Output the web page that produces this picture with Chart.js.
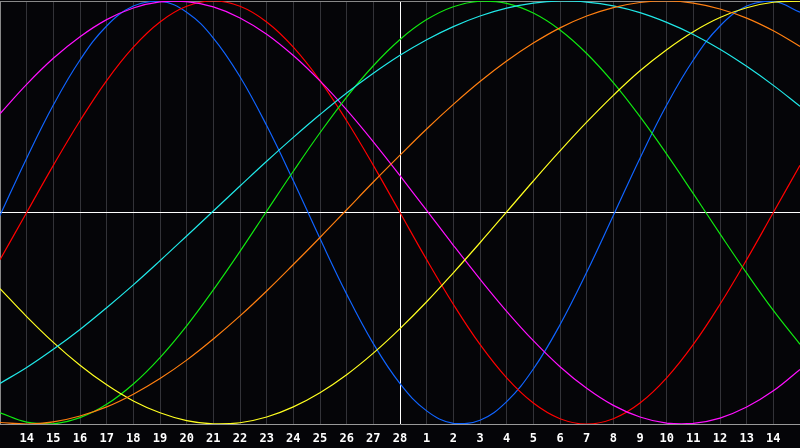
<!DOCTYPE html>
<html>
<head>
<meta charset="utf-8">
<script src="https://cdn.jsdelivr.net/npm/chart.js@4"></script>
<style>
  html, body { margin: 0; padding: 0; background: #050508; }
  canvas { display: block; }
</style>
</head>
<body>
<canvas id="bioChart" width="800" height="448"></canvas>
<script>
// day labels: first and last are off the visible tick row
const dayLabels = ['13','14','15','16','17','18','19','20','21','22','23','24','25','26','27','28',
                   '1','2','3','4','5','6','7','8','9','10','11','12','13','14','15'];

// cycle values (-1 .. 1)
const physical = [-0.014, 0.257, 0.508, 0.721, 0.882, 0.976, 0.999, 0.947, 0.825, 0.642, 0.411,
                  0.150, -0.123, -0.386, -0.620, -0.809, -0.938, -0.997, -0.982, -0.894, -0.740,
                  -0.531, -0.283, -0.014, 0.257, 0.508, 0.721, 0.882, 0.976, 0.999, 0.947];
const emotional = [-0.223, 0, 0.223, 0.434, 0.624, 0.782, 0.901, 0.975, 1, 0.975, 0.901,
                   0.782, 0.624, 0.434, 0.223, 0, -0.223, -0.434, -0.624, -0.782, -0.901,
                   -0.975, -1, -0.975, -0.901, -0.782, -0.624, -0.434, -0.223, 0, 0.223];
const intellectual = [-0.947, -0.991, -0.999, -0.970, -0.907, -0.811, -0.686, -0.536, -0.366, -0.184, 0.006,
                      0.195, 0.377, 0.546, 0.694, 0.818, 0.912, 0.973, 0.999, 0.989, 0.943,
                      0.863, 0.752, 0.614, 0.453, 0.276, 0.089, -0.101, -0.287, -0.463, -0.623];
const intuition = [0.467, 0.606, 0.729, 0.831, 0.912, 0.967, 0.996, 0.997, 0.972, 0.920, 0.843,
                   0.742, 0.622, 0.485, 0.334, 0.174, 0.010, -0.155, -0.315, -0.467, -0.606,
                   -0.729, -0.831, -0.912, -0.967, -0.996, -0.997, -0.972, -0.920, -0.843, -0.742];
const aesthetic = [-0.360, -0.492, -0.614, -0.722, -0.815, -0.891, -0.947, -0.984, -0.999, -0.994, -0.967,
                   -0.919, -0.852, -0.767, -0.665, -0.549, -0.422, -0.285, -0.143, 0.003, 0.149,
                   0.291, 0.427, 0.554, 0.670, 0.770, 0.855, 0.922, 0.968, 0.994, 0.999];
const awareness = [-0.993, -1.000, -0.990, -0.962, -0.919, -0.859, -0.785, -0.698, -0.598, -0.489, -0.371,
                   -0.246, -0.118, 0.013, 0.144, 0.271, 0.395, 0.511, 0.619, 0.716, 0.801,
                   0.873, 0.929, 0.969, 0.993, 1.000, 0.990, 0.962, 0.919, 0.859, 0.785];
const spiritual = [-0.808, -0.733, -0.647, -0.553, -0.450, -0.342, -0.228, -0.111, 0.007, 0.125, 0.242,
                   0.355, 0.463, 0.565, 0.658, 0.743, 0.817, 0.879, 0.929, 0.966, 0.990,
                   1.000, 0.995, 0.977, 0.945, 0.899, 0.842, 0.772, 0.691, 0.601, 0.502];

const todayIndex = 15;

function line(data, color) {
    return {
        data: data,
        borderColor: color,
        borderWidth: 1.2,
        pointRadius: 0,
        pointHoverRadius: 0,
        tension: 0.4,
        fill: false
    };
}

const bgPlugin = {
    id: 'bg',
    beforeDraw(chart) {
        const c = chart.ctx;
        c.save();
        c.fillStyle = '#050508';
        c.fillRect(0, 0, chart.width, chart.height);
        c.restore();
    }
};

const ctx = document.getElementById('bioChart').getContext('2d');
new Chart(ctx, {
    type: 'line',
    data: {
        labels: dayLabels,
        datasets: [
            line(awareness, '#ff7f10'),
            line(spiritual, '#20e8e8'),
            line(aesthetic, '#ffff20'),
            line(intellectual, '#10e810'),
            line(intuition, '#ff10ff'),
            line(emotional, '#ff0000'),
            line(physical, '#1064ff')
        ]
    },
    options: {
        responsive: false,
        animation: false,
        layout: { autoPadding: false, padding: { top: 1, left: 0, right: 0, bottom: 0 } },
        plugins: {
            legend: { display: false },
            tooltip: { enabled: false }
        },
        scales: {
            x: {
                grid: {
                    drawTicks: true,
                    tickLength: 8,
                    tickColor: 'transparent',
                    lineWidth: 1,
                    color: (c) => c.index === todayIndex ? '#ffffff' : (c.index === 0 ? '#888888' : '#333338')
                },
                border: { display: true, color: '#999999' },
                ticks: {
                    color: '#ffffff',
                    autoSkip: false,
                    maxRotation: 0,
                    padding: 0,
                    font: { family: 'DejaVu Sans Mono', weight: 'bold', size: 12 },
                    callback: function(v, i) {
                        return (i === 0 || i === dayLabels.length - 1) ? '' : dayLabels[i];
                    }
                },
                afterFit: (s) => { s.height = 24; }
            },
            y: {
                min: -1,
                max: 1,
                ticks: { display: false, stepSize: 1 },
                border: { display: false },
                grid: {
                    drawTicks: false,
                    color: (c) => c.tick.value === 0 ? '#ffffff' : (c.tick.value === 1 ? '#888888' : 'transparent')
                },
                afterFit: (s) => { s.width = 0; }
            }
        }
    },
    plugins: [bgPlugin]
});
</script>
</body>
</html>
